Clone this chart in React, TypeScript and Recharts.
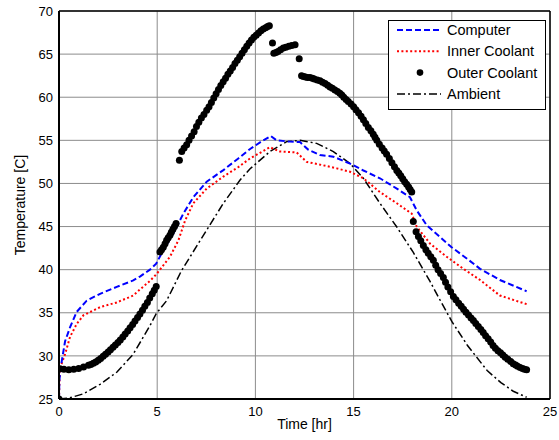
import {
  CartesianGrid,
  ComposedChart,
  Line,
  ReferenceLine,
  Scatter,
  XAxis,
  YAxis,
} from "recharts";

// [time hr, temperature C]
const computer: [number, number][] = [
  [0, 25], [0.02, 27.2], [0.09, 28.7], [0.31, 31.7], [0.56, 33.3], [0.9, 35.1],
  [1.41, 36.4], [2.09, 37.2], [2.94, 38.0], [3.78, 38.75], [4.12, 39.2],
  [4.63, 40.0], [4.95, 40.7], [5.31, 42.25], [5.82, 44.2], [6.33, 46.5],
  [6.84, 48.4], [7.52, 50.2], [8.37, 51.55], [9.13, 52.9], [9.73, 54.0],
  [10.4, 55.0], [10.78, 55.5], [11.08, 55.0], [11.76, 54.85], [12.27, 54.8],
  [12.7, 53.9], [13.29, 53.3], [13.97, 53.1], [14.82, 52.3], [15.5, 51.5],
  [16.34, 50.6], [17.2, 49.4], [17.87, 48.4], [18.21, 46.9], [18.72, 45.15],
  [19.4, 43.8], [19.99, 42.6], [20.76, 41.3], [21.44, 40.1], [22.45, 38.8],
  [23.81, 37.5],
];

const innerCoolant: [number, number][] = [
  [0, 25], [0.04, 28.5], [0.31, 30.2], [0.56, 32.2], [0.9, 33.7], [1.24, 34.7],
  [2.09, 35.65], [2.94, 36.2], [3.78, 37.0], [4.12, 37.7], [4.63, 38.7],
  [4.97, 39.5], [5.65, 41.5], [6.08, 43.4], [6.42, 45.7], [6.84, 47.7],
  [7.52, 49.4], [8.37, 50.8], [9.13, 51.9], [9.73, 52.9], [10.74, 54.2],
  [11.25, 53.7], [12.1, 53.6], [12.61, 52.5], [13.46, 52.1], [14.14, 51.75],
  [14.82, 51.35], [15.5, 50.6], [16.34, 49.0], [17.2, 47.7], [17.96, 46.5],
  [18.21, 45.0], [18.9, 43.0], [19.74, 41.5], [20.59, 40.1], [21.44, 38.8],
  [22.45, 37.0], [23.81, 36.0],
];

const outerCoolant: [number, number][] = [
  [0, 25.0], [0.05, 28.5], [0.25, 28.45], [0.5, 28.4], [0.75, 28.45], [1.0, 28.55],
  [1.25, 28.7], [1.5, 28.9], [1.62, 29.0], [1.75, 29.15], [1.87, 29.3], [2.0, 29.5],
  [2.12, 29.7], [2.25, 29.95], [2.37, 30.2], [2.5, 30.45], [2.62, 30.7], [2.75, 31.0],
  [2.87, 31.25], [3.0, 31.55], [3.12, 31.85], [3.25, 32.2], [3.37, 32.55], [3.5, 32.9],
  [3.62, 33.25], [3.75, 33.65], [3.87, 34.05], [4.0, 34.45], [4.12, 34.85], [4.25, 35.3],
  [4.37, 35.75], [4.5, 36.2], [4.62, 36.7], [4.75, 37.2], [4.85, 37.6], [4.95, 38.05],
  [5.14, 42.05], [5.22, 42.3], [5.31, 42.6], [5.4, 43.0], [5.48, 43.4], [5.56, 43.7],
  [5.65, 44.0], [5.72, 44.35], [5.8, 44.7], [5.88, 45.0], [5.96, 45.35],
  [6.13, 52.7], [6.25, 53.7], [6.37, 54.1], [6.5, 54.5], [6.62, 55.0], [6.75, 55.5],
  [6.88, 56.0], [7.0, 56.6], [7.12, 57.1], [7.25, 57.6], [7.38, 58.0], [7.52, 58.5],
  [7.64, 58.9], [7.76, 59.4], [7.88, 59.9], [8.0, 60.4], [8.12, 60.9], [8.24, 61.35],
  [8.36, 61.8], [8.48, 62.2], [8.6, 62.65], [8.72, 63.05], [8.84, 63.45], [8.96, 63.9],
  [9.08, 64.3], [9.2, 64.7], [9.32, 65.1], [9.44, 65.5], [9.56, 65.9], [9.68, 66.3],
  [9.8, 66.65], [9.92, 66.95], [10.04, 67.2], [10.16, 67.45], [10.28, 67.7], [10.4, 67.9],
  [10.52, 68.05], [10.62, 68.2], [10.71, 68.3],
  [10.87, 66.3],
  [10.94, 65.1], [11.05, 65.2], [11.15, 65.3], [11.28, 65.5], [11.42, 65.7], [11.55, 65.8],
  [11.7, 65.9], [11.85, 66.0], [12.02, 66.1],
  [12.23, 64.45],
  [12.35, 62.5], [12.45, 62.4], [12.55, 62.35], [12.66, 62.3], [12.78, 62.3], [12.9, 62.2],
  [13.0, 62.1], [13.15, 62.0], [13.29, 61.9], [13.42, 61.75], [13.55, 61.6], [13.68, 61.4],
  [13.8, 61.2], [13.92, 61.05], [14.05, 60.85], [14.18, 60.65], [14.3, 60.45], [14.4, 60.25],
  [14.5, 60.0], [14.62, 59.75], [14.73, 59.5], [14.87, 59.2], [15.0, 58.9], [15.12, 58.55],
  [15.25, 58.2], [15.38, 57.8], [15.5, 57.4], [15.62, 56.95], [15.75, 56.5], [15.88, 56.1],
  [16.0, 55.7], [16.09, 55.35], [16.18, 55.0], [16.31, 54.55], [16.45, 54.1], [16.56, 53.75],
  [16.68, 53.4], [16.82, 52.9], [16.95, 52.4], [17.08, 51.95], [17.2, 51.5], [17.3, 51.2],
  [17.4, 50.9], [17.5, 50.55], [17.6, 50.2], [17.7, 49.9], [17.8, 49.6], [17.88, 49.3],
  [17.96, 49.0],
  [18.04, 45.6],
  [18.18, 44.4], [18.3, 43.85], [18.42, 43.35], [18.55, 42.8], [18.68, 42.3], [18.8, 41.9],
  [18.93, 41.5], [19.06, 41.1], [19.18, 40.5], [19.3, 40.0], [19.43, 39.55], [19.57, 39.1],
  [19.68, 38.55], [19.8, 38.0], [19.94, 37.45], [20.08, 36.9], [20.21, 36.5], [20.35, 36.1],
  [20.48, 35.75], [20.6, 35.4], [20.72, 35.05], [20.85, 34.75], [20.98, 34.4], [21.1, 34.1],
  [21.22, 33.75], [21.35, 33.4], [21.48, 33.05], [21.6, 32.7], [21.72, 32.35], [21.85, 32.0],
  [21.98, 31.6], [22.1, 31.2], [22.22, 30.9], [22.35, 30.6], [22.48, 30.35], [22.6, 30.1],
  [22.72, 29.85], [22.85, 29.6], [23.0, 29.35], [23.13, 29.1], [23.25, 28.95], [23.35, 28.8],
  [23.48, 28.65], [23.6, 28.55], [23.7, 28.45], [23.81, 28.4],
];

const ambient: [number, number][] = [
  [0, 25], [0.5, 25.1], [1.24, 25.6], [2.09, 26.7], [2.94, 28.1], [3.78, 30.2],
  [4.63, 33.5], [4.95, 34.9], [5.48, 36.4], [6.24, 39.9], [7.52, 44.6],
  [8.37, 47.7], [9.22, 50.4], [9.73, 51.7], [10.74, 53.7], [11.59, 54.85],
  [12.27, 55.0], [13.12, 54.65], [13.97, 53.7], [14.82, 52.3], [15.5, 50.6],
  [16.34, 47.7], [17.2, 44.95], [18.04, 42.0], [18.9, 38.6], [19.3, 36.9],
  [20.0, 34.0], [20.8, 31.2], [21.8, 28.3], [22.5, 26.9], [23.13, 25.9],
  [23.81, 25.2],
];

const xTicks = [0, 5, 10, 15, 20, 25];
const yTicks = [25, 30, 35, 40, 45, 50, 55, 60, 65, 70];

const legendItems = ["Computer", "Inner Coolant", "Outer Coolant", "Ambient"];

const toPts = (arr: [number, number][]) => arr.map(([x, y]) => ({ x, y }));

const FONT = "'Liberation Sans', Arial, sans-serif";
const tickStyle = { fontSize: 13, fill: "#000", fontFamily: FONT };

const BLUE_DASH = "6 3";
const RED_DOT = "2 2.4";
const AMB_DASH = "8 3 2 3";

function LegendBox() {
  const sample = (i: number) => {
    const y = 10 + i * 21.3;
    if (i === 0)
      return <line x1={9} x2={53} y1={y} y2={y} stroke="#0000ff" strokeWidth={2} strokeDasharray={BLUE_DASH} />;
    if (i === 1)
      return <line x1={9} x2={53} y1={y} y2={y} stroke="#ff0000" strokeWidth={2} strokeDasharray={RED_DOT} />;
    if (i === 2) return <circle cx={32} cy={y} r={3.3} fill="#000" />;
    return <line x1={9} x2={53} y1={y} y2={y} stroke="#000" strokeWidth={1.5} strokeDasharray={AMB_DASH} />;
  };
  return (
    <svg
      width={158}
      height={90}
      style={{ position: "absolute", left: 388, top: 20, background: "#fff" }}
    >
      <rect x={0.5} y={0.5} width={157} height={89} fill="#fff" stroke="#000" strokeWidth={1} />
      {legendItems.map((name, i) => (
        <g key={name}>
          {sample(i)}
          <text x={59} y={15 + i * 21.3} fontSize={14.5} fontFamily={FONT} fill="#000">
            {name}
          </text>
        </g>
      ))}
    </svg>
  );
}

export default function App() {
  return (
    <div style={{ position: "absolute", left: 0, top: 0, width: 559, height: 440, background: "#fff" }}>
      <ComposedChart
        width={559}
        height={440}
        margin={{ top: 11, right: 9, bottom: 11, left: 0 }}
      >
        <CartesianGrid stroke="#8c8c8c" strokeWidth={1} />
        <XAxis
          dataKey="x"
          type="number"
          domain={[0, 25]}
          ticks={xTicks}
          allowDataOverflow
          height={30}
          tickLine={false}
          tickSize={0}
          tickMargin={8}
          tick={tickStyle}
          axisLine={{ stroke: "#000", strokeWidth: 2 }}
          label={{
            value: "Time [hr]",
            position: "insideBottom",
            offset: 0,
            style: { fontSize: 14, fontFamily: FONT, fill: "#000" },
          }}
        />
        <YAxis
          dataKey="y"
          type="number"
          domain={[25, 70]}
          ticks={yTicks}
          allowDataOverflow
          width={59}
          tickLine={false}
          tickSize={0}
          tickMargin={6}
          tick={tickStyle}
          axisLine={{ stroke: "#000", strokeWidth: 2 }}
          label={{
            value: "Temperature [C]",
            angle: -90,
            position: "center",
            dx: -9,
            style: { fontSize: 14, fontFamily: FONT, fill: "#000", textAnchor: "middle" },
          }}
        />
        <ReferenceLine y={70} stroke="#000" strokeWidth={1.5} />
        <ReferenceLine x={25} stroke="#000" strokeWidth={1.5} />
        <Line
          data={toPts(ambient)}
          dataKey="y"
          type="linear"
          stroke="#000"
          strokeWidth={1.5}
          strokeDasharray={AMB_DASH}
          dot={false}
          isAnimationActive={false}
        />
        <Line
          data={toPts(innerCoolant)}
          dataKey="y"
          type="linear"
          stroke="#ff0000"
          strokeWidth={2}
          strokeDasharray={RED_DOT}
          dot={false}
          isAnimationActive={false}
        />
        <Line
          data={toPts(computer)}
          dataKey="y"
          type="linear"
          stroke="#0000ff"
          strokeWidth={2}
          strokeDasharray={BLUE_DASH}
          dot={false}
          isAnimationActive={false}
        />
        <Scatter
          data={toPts(outerCoolant)}
          dataKey="y"
          isAnimationActive={false}
          shape={(p: any) => <circle cx={p.cx} cy={p.cy} r={3.5} fill="#000" />}
        />
      </ComposedChart>
      <LegendBox />
    </div>
  );
}
